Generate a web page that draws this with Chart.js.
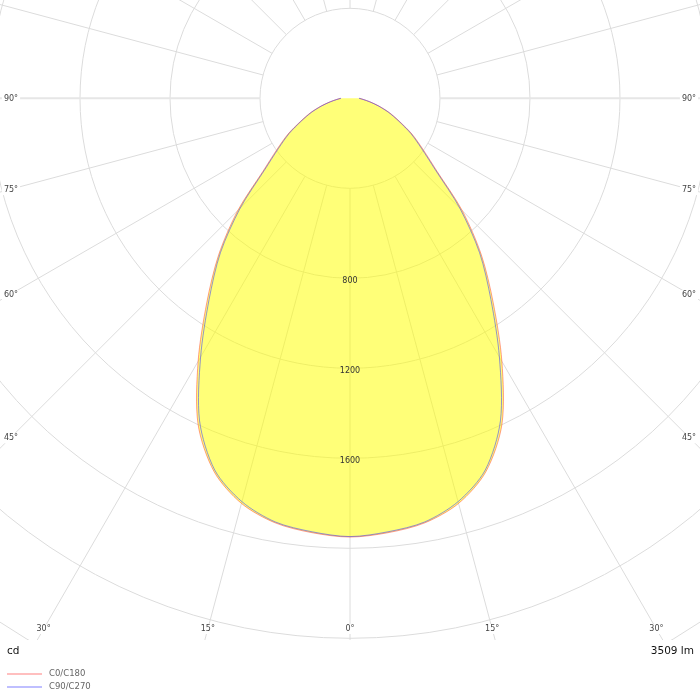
<!DOCTYPE html>
<html>
<head>
<meta charset="utf-8">
<script src="https://cdn.jsdelivr.net/npm/chart.js@4.4.1/dist/chart.umd.min.js"></script>
<style>
  html, body { margin: 0; padding: 0; background: #fff; overflow: hidden; }
  #wrap { width: 700px; height: 700px; }
</style>
</head>
<body>
<div id="wrap"><canvas id="ldc" width="700" height="700"></canvas></div>
<script>
// gamma angles (deg from nadir) and intensities in cd
const gammaAngles = [0, 5, 10, 15, 20, 25, 30, 35, 40, 45, 50, 55, 60, 65, 70, 75, 80, 85, 90];
const c0c180 = [1950, 1938, 1916, 1864, 1766, 1598, 1350, 1110, 908, 705, 505, 396, 318, 242, 186, 133, 90, 60, 42];
const c90c270 = [1948, 1934, 1912, 1856, 1758, 1582, 1328, 1092, 896, 690, 496, 388, 312, 238, 182, 130, 88, 58, 40];
const seriesNames = ['C0/C180', 'C90/C270'];

const ringValues = [400, 800, 1200, 1600, 2000, 2400, 2800, 3200, 3600];
const ringLabels = [800, 1200, 1600];
const sideAngleLabels = [90, 75, 60, 45];
const bottomAngleLabels = [30, 15, 0];
const unitText = 'cd';
const fluxText = '3509 lm';

const rad = d => d * Math.PI / 180;

// polar -> cartesian, left half then right half, through the centre line
function curve(vals) {
  const left = gammaAngles.map((a, i) => ({ x: -vals[i] * Math.sin(rad(a)), y: -vals[i] * Math.cos(rad(a)) })).reverse();
  const right = gammaAngles.map((a, i) => ({ x: vals[i] * Math.sin(rad(a)), y: -vals[i] * Math.cos(rad(a)) })).slice(1);
  return left.concat(right);
}

const polarGrid = {
  id: 'polarGrid',
  beforeDatasetsDraw(chart) {
    const { ctx, chartArea: a, scales: { x, y } } = chart;
    const cx = x.getPixelForValue(0), cy = y.getPixelForValue(0);
    const px = v => x.getPixelForValue(v) - cx;
    ctx.save();
    ctx.beginPath();
    ctx.rect(a.left, a.top, a.right - a.left, a.bottom - a.top);
    ctx.clip();
    ctx.strokeStyle = '#dcdcdc';
    ctx.lineWidth = 1;
    ringValues.forEach(r => {
      ctx.beginPath();
      ctx.arc(cx, cy, px(r), 0, Math.PI * 2);
      ctx.stroke();
    });
    for (let ang = 0; ang < 360; ang += 15) {
      const dx = Math.sin(rad(ang)), dy = Math.cos(rad(ang));
      const r0 = px(ringValues[0]), r1 = px(5000);
      ctx.lineWidth = (ang === 90 || ang === 270) ? 2 : 1;
      ctx.strokeStyle = (ang === 90 || ang === 270) ? '#e6e6e6' : '#dcdcdc';
      ctx.beginPath();
      ctx.moveTo(cx + dx * r0, cy + dy * r0);
      ctx.lineTo(cx + dx * r1, cy + dy * r1);
      ctx.stroke();
    }
    ctx.restore();
  },
  afterDatasetsDraw(chart) {
    const { ctx, chartArea: a, scales: { x, y } } = chart;
    const cx = x.getPixelForValue(0), cy = y.getPixelForValue(0);
    ctx.save();
    ctx.font = '8px "DejaVu Sans", Verdana, sans-serif';
    ctx.textAlign = 'center';
    ctx.textBaseline = 'middle';
    ctx.fillStyle = '#333';
    ringLabels.forEach(r => {
      ctx.fillText(String(r), cx, cy + (x.getPixelForValue(r) - cx) + 2.5);
    });

    const label = (txt, lx, ly) => {
      const w = ctx.measureText(txt).width;
      ctx.fillStyle = '#fff';
      ctx.fillRect(lx - w / 2 - 2, ly - 5, w + 4, 10);
      ctx.fillStyle = '#444';
      ctx.fillText(txt, lx, ly);
    };
    const sideX = 11;
    sideAngleLabels.forEach(ang => {
      const dy = (cx - sideX) * Math.cos(rad(ang)) / Math.sin(rad(ang));
      label(ang + '°', a.left + sideX, cy + dy + 1);
      label(ang + '°', a.right - sideX, cy + dy + 1);
    });
    const by = 629;
    bottomAngleLabels.forEach(ang => {
      const dx = (by - cy) * Math.tan(rad(ang));
      label(ang + '°', cx - dx, by);
      if (ang !== 0) label(ang + '°', cx + dx, by);
    });

    ctx.font = '10.5px "DejaVu Sans", Verdana, sans-serif';
    ctx.fillStyle = '#111';
    ctx.textAlign = 'left';
    ctx.fillText(unitText, 7, 651);
    ctx.textAlign = 'right';
    ctx.fillText(fluxText, 694, 651);

    ctx.font = '8.5px "DejaVu Sans", Verdana, sans-serif';
    chart.data.datasets.forEach((ds, i) => {
      const ly = 674 + i * 13;
      ctx.strokeStyle = ds.legendColor;
      ctx.lineWidth = 2;
      ctx.beginPath();
      ctx.moveTo(7, ly);
      ctx.lineTo(42, ly);
      ctx.stroke();
      ctx.fillStyle = '#666';
      ctx.textAlign = 'left';
      ctx.fillText(ds.label, 49, ly);
    });
    ctx.restore();
  }
};

new Chart(document.getElementById('ldc'), {
  type: 'scatter',
  data: {
    datasets: [
      {
        label: seriesNames[0],
        data: curve(c0c180),
        showLine: true,
        tension: 0.3,
        borderColor: 'rgba(255, 80, 60, 0.55)',
        legendColor: 'rgba(255, 0, 0, 0.25)',
        borderWidth: 1,
        pointRadius: 0,
        fill: 'shape',
        backgroundColor: 'rgba(255, 255, 0, 0.53)',
        order: 2
      },
      {
        label: seriesNames[1],
        data: curve(c90c270),
        showLine: true,
        tension: 0.3,
        borderColor: 'rgba(60, 60, 255, 0.55)',
        legendColor: 'rgba(0, 0, 255, 0.25)',
        borderWidth: 1,
        pointRadius: 0,
        fill: false,
        order: 1
      }
    ]
  },
  options: {
    responsive: false,
    animation: false,
    layout: { padding: { left: 0, right: 0, top: 0, bottom: 60 } },
    scales: {
      x: { type: 'linear', min: -1555.6, max: 1555.6, display: false },
      y: { type: 'linear', min: -2407.6, max: 436.9, display: false }
    },
    plugins: {
      legend: { display: false },
      tooltip: { enabled: false }
    }
  },
  plugins: [polarGrid]
});
</script>
</body>
</html>
